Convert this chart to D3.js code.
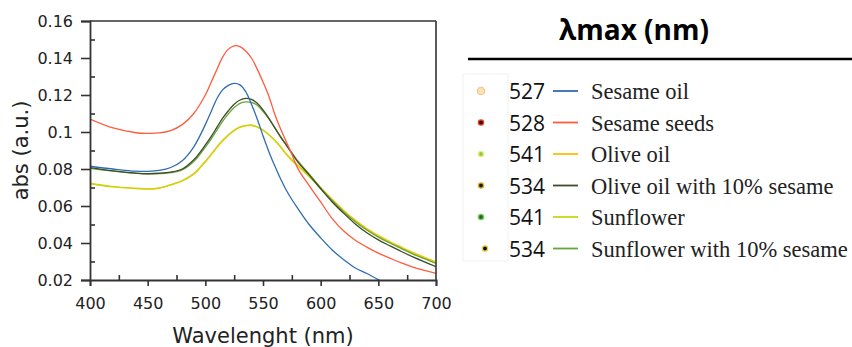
<!DOCTYPE html>
<html>
<head>
<meta charset="utf-8">
<script src="https://cdn.jsdelivr.net/npm/d3@7"></script>
<style>
body { margin: 0; background: #fff; }
svg { display: block; }
</style>
</head>
<body>
<svg id="chart" width="852" height="347"></svg>
<script>
// wavelengths shared by every spectrum
var wavelengths = [400,420,440,450,460,470,480,490,500,505,510,515,520,525,530,535,540,545,550,555,560,565,570,575,580,590,600,610,620,630,640,650,660,670,680,690,700];

var sesameOil = [.0815,.0800,.0788,.0787,.0792,.0808,.0845,.0920,.1040,.1110,.1180,.1228,.1252,.1263,.1255,.1218,.1150,.1070,.0980,.0895,.0820,.0750,.0688,.0635,.0588,.0500,.0428,.0362,.0310,.0265,.0235,.0202,.0175,.0150,.0130,.0110,.0100];
var sesameSeeds = [.1070,.1022,.0996,.0993,.0995,.1008,.1040,.1100,.1200,.1268,.1338,.1405,.1448,.1466,.1462,.1438,.1400,.1340,.1270,.1195,.1100,.1020,.0950,.0880,.0805,.0710,.0622,.0532,.0465,.0415,.0378,.0345,.0318,.0292,.0270,.0252,.0236];
var oliveOil = [.0720,.0703,.0694,.0691,.0696,.0713,.0736,.0772,.0838,.0876,.0916,.0951,.0982,.1007,.1025,.1033,.1035,.1026,.1010,.0986,.0957,.0923,.0884,.0850,.0822,.0763,.0700,.0636,.0576,.0524,.0478,.0441,.0408,.0378,.0349,.0323,.0298];
var oliveSesame = [.0808,.0790,.0778,.0775,.0777,.0783,.0800,.0850,.0930,.0975,.1025,.1075,.1115,.1150,.1173,.1182,.1176,.1155,.1120,.1075,.1025,.0975,.0930,.0885,.0840,.0768,.0693,.0622,.0560,.0503,.0455,.0417,.0385,.0354,.0325,.0298,.0272];
var sunflower = [.0723,.0705,.0696,.0693,.0698,.0716,.0738,.0775,.0842,.0880,.0920,.0955,.0985,.1010,.1028,.1036,.1038,.1028,.1011,.0985,.0955,.0920,.0880,.0845,.0817,.0758,.0695,.0630,.0570,.0518,.0472,.0435,.0402,.0372,.0343,.0317,.0292];
var sunflowerSesame = [.0803,.0788,.0776,.0773,.0775,.0780,.0795,.0840,.0918,.0962,.1010,.1058,.1098,.1132,.1155,.1163,.1160,.1145,.1112,.1072,.1025,.0978,.0933,.0888,.0845,.0773,.0698,.0630,.0568,.0515,.0470,.0432,.0400,.0370,.0340,.0315,.0290];

// legend table
var names = ["Sesame oil","Sesame seeds","Olive oil","Olive oil with 10% sesame","Sunflower","Sunflower with 10% sesame"];
var lambdaMax = ["527","528","541","534","541","534"];
var lineColors = ["#2f6db0","#ff5b3c","#ffc000","#3f4a26","#c6d614","#64a83a"];
var dotFill = ["#fbe3c0","#2a0a00","#8fc45a","#1a1a00","#1f6a1f","#0a0a00"];
var dotRing = ["#f6c98a","#e8442a","#e6f07a","#e0b030","#7cc860","#e8d040"];
var drawOrder = [2,4,5,3,0,1];
var seriesValues = [sesameOil, sesameSeeds, oliveOil, oliveSesame, sunflower, sunflowerSesame];

var xTicks = [400,450,500,550,600,650,700];
var xMinor = [425,475,525,575,625,675];
var yTicks = [0.02,0.04,0.06,0.08,0.1,0.12,0.14,0.16];
var yMinor = [0.03,0.05,0.07,0.09,0.11,0.13,0.15];

var plot = {left: 90, right: 436, top: 21, bottom: 280};
var svg = d3.select("#chart");

var x = d3.scaleLinear().domain([400,700]).range([plot.left, plot.right]);
var y = d3.scaleLinear().domain([0.02,0.16]).range([plot.bottom, plot.top]);

svg.append("clipPath").attr("id","clip")
  .append("rect")
  .attr("x", plot.left).attr("y", plot.top)
  .attr("width", plot.right - plot.left).attr("height", plot.bottom - plot.top);

// spectra
var line = d3.line()
  .x(function(d){ return x(d[0]) })
  .y(function(d){ return y(d[1]) })
  .curve(d3.curveCatmullRom.alpha(0.5));

var curves = svg.append("g").attr("clip-path","url(#clip)");
drawOrder.forEach(function(i)
{
  var pts = wavelengths.map(function(w, k){ return [w, seriesValues[i][k]] });
  curves.append("path")
    .attr("d", line(pts))
    .attr("fill","none")
    .attr("stroke", lineColors[i])
    .attr("stroke-width", 1.3)
    .attr("stroke-linejoin","round");
});

// frame
var axisColor = "#333";
svg.append("line").attr("x1",plot.left).attr("x2",plot.right).attr("y1",plot.top).attr("y2",plot.top)
  .attr("stroke",axisColor).attr("stroke-width",1.6);
svg.append("line").attr("x1",plot.right).attr("x2",plot.right).attr("y1",plot.top).attr("y2",plot.bottom)
  .attr("stroke",axisColor).attr("stroke-width",1.6);

// y axis, major ticks outside, minor inside
svg.append("g").attr("transform","translate("+plot.left+",0)")
  .call(d3.axisLeft(y).tickValues(yTicks).tickSize(9).tickPadding(8)
    .tickFormat(function(d){ return d3.format(".2~f")(d) }));
svg.append("g").attr("transform","translate("+plot.left+",0)")
  .call(d3.axisLeft(y).tickValues(yMinor).tickSize(-5).tickFormat(""))
  .select(".domain").remove();

svg.append("g").attr("transform","translate(0,"+plot.bottom+")")
  .call(d3.axisBottom(x).tickValues(xTicks).tickSize(6).tickPadding(12));
svg.append("g").attr("transform","translate(0,"+plot.bottom+")")
  .call(d3.axisBottom(x).tickValues(xMinor).tickSize(-5).tickFormat(""))
  .select(".domain").remove();

svg.selectAll(".domain").attr("stroke",axisColor).attr("stroke-width",1.8);
svg.selectAll(".tick line").attr("stroke",axisColor).attr("stroke-width",1.6);
svg.selectAll(".tick text")
  .attr("font-family","'DejaVu Sans', sans-serif")
  .attr("font-size",16)
  .attr("fill","#222");

// axis titles
svg.append("text")
  .attr("x", (plot.left+plot.right)/2).attr("y", 343)
  .attr("text-anchor","middle")
  .attr("font-family","'DejaVu Sans', sans-serif")
  .attr("font-size",21).attr("fill","#222")
  .text("Wavelenght (nm)");
svg.append("text")
  .attr("transform","translate(28,"+((plot.top+plot.bottom)/2)+") rotate(-90)")
  .attr("text-anchor","middle")
  .attr("font-family","'DejaVu Sans', sans-serif")
  .attr("font-size",21).attr("fill","#222")
  .text("abs (a.u.)");

// legend
svg.append("text")
  .attr("x", 634).attr("y", 40)
  .attr("text-anchor","middle")
  .attr("font-family","'Open Sans', sans-serif")
  .attr("font-weight","bold")
  .attr("font-size",28).attr("fill","#000")
  .text("λmax (nm)");
svg.append("line").attr("x1",468).attr("x2",852).attr("y1",59).attr("y2",59)
  .attr("stroke","#000").attr("stroke-width",2.5);

svg.append("rect").attr("x",463).attr("y",74).attr("width",45).attr("height",187)
  .attr("fill","none").attr("stroke","#f2f2f2").attr("stroke-width",1);

var rowY = d3.scalePoint().domain(d3.range(names.length)).range([91, 248.5]);

var rows = svg.selectAll(".row")
  .data(names)
  .enter()
  .append("g").attr("class","row")
  .attr("transform", function(d,i){ return "translate(0,"+rowY(i)+")" });

rows.append("circle")
  .attr("cx", function(d,i){ return i==5 ? 485 : 481 })
  .attr("cy", 0)
  .attr("r", function(d,i){ return i==0 ? 3.6 : 2.6 })
  .attr("fill", function(d,i){ return dotFill[i] })
  .attr("stroke", function(d,i){ return dotRing[i] })
  .attr("stroke-width", 1.4);

rows.append("text")
  .attr("x", 509).attr("y", 8)
  .attr("font-family","'Open Sans', sans-serif")
  .attr("font-size",21).attr("fill","#111")
  .text(function(d,i){ return lambdaMax[i] });

rows.append("line")
  .attr("x1",553).attr("x2",578).attr("y1",0).attr("y2",0)
  .attr("stroke", function(d,i){ return lineColors[i] })
  .attr("stroke-width",1.8);

rows.append("text")
  .attr("x", 591).attr("y", 8)
  .attr("font-family","'Liberation Serif', 'Times New Roman', serif")
  .attr("font-size",22.5).attr("fill","#222")
  .text(function(d){ return d });
</script>
</body>
</html>
